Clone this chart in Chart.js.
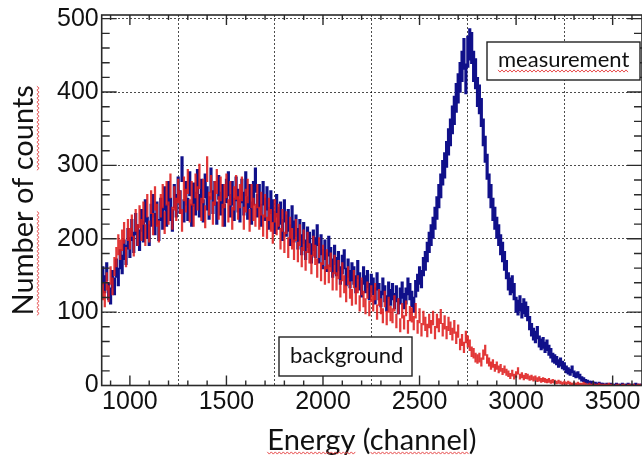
<!DOCTYPE html>
<html><head><meta charset="utf-8">
<script src="https://cdn.jsdelivr.net/npm/chart.js@4.4.1/dist/chart.umd.min.js"></script>
<style>html,body{margin:0;padding:0;background:#fff;overflow:hidden}</style>
</head><body>
<canvas id="c" width="642" height="459"></canvas>
<script>
// ---- data (histograms, 10-channel bins, first bin centred at 860) ----
const channelStart = 860;
const binWidth = 10;
const measurementCounts = [
 150,138,155,128,122,145,135,160,148,172,
 165,185,178,200,188,212,195,220,205,198,
 225,210,238,215,205,232,245,220,235,212,
 240,228,255,232,262,240,225,258,245,268,
 250,295,238,262,240,275,232,260,248,278,
 245,265,238,272,255,242,280,250,262,235,
 270,248,258,232,265,275,245,262,240,268,
 252,238,265,248,275,242,258,235,262,280,
 245,258,232,262,240,255,228,250,238,222,
 245,228,235,212,238,218,225,205,230,210,
 218,200,212,192,208,185,202,195,180,198,
 188,205,180,192,172,185,168,190,175,160,
 178,162,170,150,165,172,148,160,145,155,
 150,138,158,142,132,150,138,145,128,140,
 135,122,142,128,118,135,125,112,130,120,
 128,115,125,108,122,130,115,122,135,128,
 118,110,132,140,150,145,162,170,182,195,
 205,215,228,242,258,272,290,300,315,332,
 345,362,375,392,405,420,435,452,418,455,
 465,460,435,425,400,390,372,345,322,298,
 272,258,240,228,215,205,192,182,170,158,
 142,135,138,128,110,106,112,102,108,104,
 98,85,76,70,66,72,60,56,58,52,
 55,48,44,38,36,34,30,32,28,26,
 22,20,18,22,16,14,15,12,9,8,
 6,5,4,4,3,3,2,3,2,2,
 1,2,1,2,1,1,2,1,1,2,
 1,1,2,1,1,1,2,1,1,1
];
const backgroundCounts = [
 128,118,142,125,150,135,162,175,192,185,
 198,208,175,212,200,218,190,225,205,230,
 212,235,205,245,210,250,220,255,232,210,
 245,258,222,262,235,272,228,255,240,265,
 250,225,268,252,278,238,262,232,272,255,
 285,240,265,230,295,248,270,235,262,278,
 242,268,232,258,272,238,262,228,255,270,
 242,258,268,228,252,265,225,258,240,232,
 258,228,248,218,245,215,240,225,208,238,
 220,232,200,225,195,222,188,215,200,185,
 212,182,205,175,198,170,195,180,165,190,
 178,160,188,155,178,150,172,152,168,142,
 165,142,158,132,155,138,125,150,130,120,
 145,122,138,112,135,118,108,130,105,125,
 112,128,100,120,108,95,118,92,110,98,
 95,112,88,108,82,102,86,105,80,98,
 96,85,102,80,95,76,92,84,75,88,
 80,92,72,88,82,94,76,86,72,84,
 78,70,80,65,74,56,62,52,66,60,
 55,46,44,38,36,38,32,42,48,36,
 32,27,30,24,27,22,24,19,22,18,
 16,13,17,12,15,20,12,14,11,13,
 12,10,11,9,10,8,9,7,8,7,
 6,7,5,6,5,4,5,4,3,4,
 3,4,3,2,3,2,3,2,2,3,
 2,1,2,1,2,1,1,2,1,1,
 1,1,2,1,1,0,1,1,0,1,
 1,0,1,1,0,1,0,1,1,0
];
const xMajorTicks = [1000,1500,2000,2500,3000,3500];
const yMajorTicks = [0,100,200,300,400,500];
const xTitle = 'Energy (channel)';
const yTitle = 'Number of counts';
const labelMeasurement = 'measurement';
const labelBackground = 'background';

// statistical error bars (±sqrt(N)) built from the counts
function toErrorBars(counts){
  return counts.map((n,i)=>({x: channelStart + i*binWidth, y:[n-Math.sqrt(n), n+Math.sqrt(n)]}));
}

const TITLE_FONT = 'Lato';
const TICK_FONT = 'Liberation Sans';
const TITLE_SIZE = 29;

function squiggle(ctx, x0, y0, len, vertical){
  ctx.save();
  ctx.strokeStyle='rgba(228,60,60,0.9)'; ctx.lineWidth=1;
  ctx.beginPath();
  const step=2, amp=1.1;
  for(let t=0;t<=len;t+=step){
    const o = ((t/step)%2===0)? -amp: amp;
    if(vertical){ const px=x0+o, py=y0-t; t===0?ctx.moveTo(px,py):ctx.lineTo(px,py); }
    else { const px=x0+t, py=y0+o; t===0?ctx.moveTo(px,py):ctx.lineTo(px,py); }
  }
  ctx.stroke(); ctx.restore();
}

const framePlugin = {
  id:'frame',
  afterDatasetsDraw(chart){
    const {ctx, chartArea:a, scales:{x,y}} = chart;
    ctx.save();
    ctx.strokeStyle='#2a2a2a'; ctx.lineWidth=1.4;
    ctx.beginPath();
    for(let v=900; v<=3600; v+=100){
      const px = x.getPixelForValue(v);
      if(px<a.left+1||px>a.right-1) continue;
      const L = (v%500===0)?10:5;
      ctx.moveTo(px,a.bottom); ctx.lineTo(px,a.bottom-L);
      ctx.moveTo(px,a.top); ctx.lineTo(px,a.top+L);
    }
    for(let v=20; v<=500; v+=20){
      const py = y.getPixelForValue(v);
      const L = (v%100===0)?15:8;
      ctx.moveTo(a.left,py); ctx.lineTo(a.left+L,py);
      ctx.moveTo(a.right,py); ctx.lineTo(a.right-L,py);
    }
    ctx.stroke();
    ctx.lineWidth=1.6;
    ctx.strokeRect(a.left, a.top, a.right-a.left, a.bottom-a.top);
    ctx.restore();
  },
  afterDraw(chart){
    const {ctx, chartArea:a} = chart;
    ctx.save();
    ctx.font = '22px '+TITLE_FONT;
    ctx.textBaseline='middle';
    ctx.lineWidth=1.4; ctx.strokeStyle='#222'; ctx.fillStyle='#fff';
    ctx.fillRect(487,42,153,38); ctx.strokeRect(487,42,153,38);
    ctx.fillStyle='#111'; ctx.fillText(labelMeasurement, 498, 60);
    const wm = ctx.measureText(labelMeasurement).width;
    squiggle(ctx, 498, 71, wm, false);
    ctx.fillStyle='#fff';
    ctx.fillRect(279,337,133,39); ctx.strokeRect(279,337,133,39);
    ctx.fillStyle='#111'; ctx.fillText(labelBackground, 290, 356);
    ctx.font = TITLE_SIZE+'px '+TITLE_FONT;
    const cx = (a.left+a.right)/2;
    const full = ctx.measureText(xTitle).width;
    const sx = cx - full/2;
    squiggle(ctx, sx, 453, ctx.measureText('Energy').width, false);
    squiggle(ctx, sx+ctx.measureText('Energy (').width, 453, ctx.measureText('channel').width, false);
    const cy = (a.top+a.bottom)/2;
    const fy = ctx.measureText(yTitle).width;
    const sy = cy + fy/2;
    squiggle(ctx, 38, sy, ctx.measureText('Number').width, true);
    squiggle(ctx, 38, sy-ctx.measureText('Number of ').width, ctx.measureText('counts').width, true);
    ctx.restore();
  }
};

new Chart(document.getElementById('c'), {
  type:'bar',
  data:{ datasets:[
    { label:'measurement', data: toErrorBars(measurementCounts), backgroundColor:'#10108a',
      barThickness:2.5, grouped:false, order:2 },
    { label:'background', data: toErrorBars(backgroundCounts), backgroundColor:'rgba(222,30,30,0.88)',
      barThickness:1.6, grouped:false, order:1 }
  ]},
  options:{
    responsive:false, animation:false,
    layout:{ padding:{ top:15, right:0, left:0, bottom:0 } },
    plugins:{ legend:{display:false}, tooltip:{enabled:false} },
    scales:{
      x:{ type:'linear', min:854, max:3652, offset:false,
        afterBuildTicks:s=>{ s.ticks = xMajorTicks.map(v=>({value:v})); },
        afterFit:s=>{ s.height = 73.5; s.paddingLeft=0; s.paddingRight=0; },
        ticks:{ autoSkip:false, maxRotation:0, padding:4, color:'#111', callback:v=>String(v),
                font:{family:TICK_FONT, size:25, lineHeight:1} },
        grid:{ drawTicks:false, color:'rgba(0,0,0,0.7)', lineWidth:1 },
        border:{ display:false, dash:[2,2] },
        title:{ display:true, text:xTitle, color:'#111', font:{family:TITLE_FONT, size:TITLE_SIZE, lineHeight:1.2}, padding:{top:0,bottom:1} }
      },
      y:{ min:0, max:505,
        afterBuildTicks:s=>{ s.ticks = yMajorTicks.map(v=>({value:v})); },
        afterFit:s=>{ s.width = 101.7; s.paddingTop=0; s.paddingBottom=0; },
        ticks:{ padding:3, color:'#111', callback:v=>String(v), font:{family:TICK_FONT, size:25, lineHeight:1} },
        grid:{ drawTicks:false, color:'rgba(0,0,0,0.7)', lineWidth:1 },
        border:{ display:false, dash:[2,2] },
        title:{ display:true, text:yTitle, color:'#111', font:{family:TITLE_FONT, size:TITLE_SIZE, lineHeight:1.2}, padding:{top:6,bottom:0} }
      }
    }
  },
  plugins:[framePlugin]
});
</script>
</body></html>
